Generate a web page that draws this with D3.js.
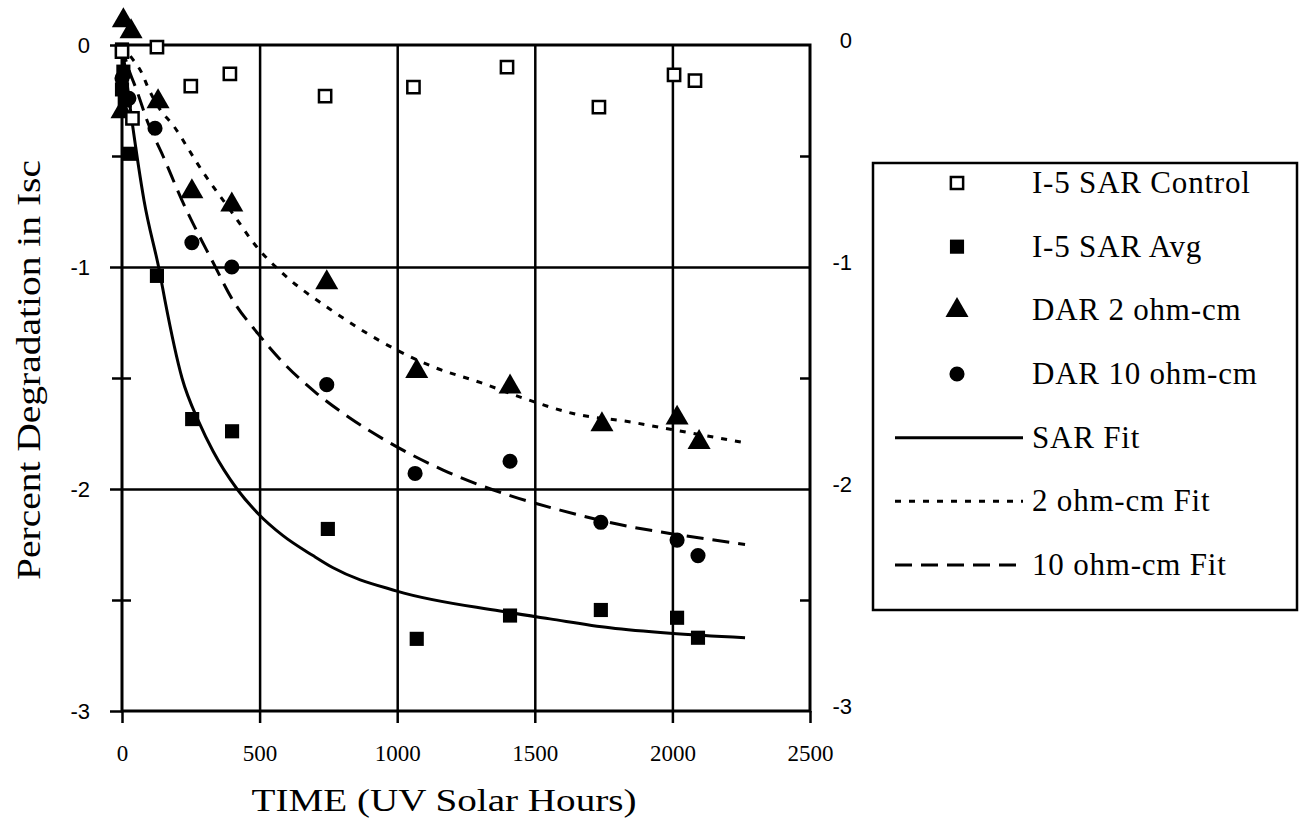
<!DOCTYPE html>
<html>
<head>
<meta charset="utf-8">
<script src="https://cdn.jsdelivr.net/npm/d3@7"></script>
<style>
  body { margin: 0; background: #fff; }
  svg { display: block; }
  .axis path { display: none; }
  .axis line { stroke: #000; stroke-width: 2.5; }
</style>
</head>
<body>
<svg width="1302" height="825"></svg>
<script>
// Measured points (hours, percent change)
var controlHours = [0, 38, 127, 250, 392, 738, 1059, 1399, 1733, 2006, 2082];
var controlVals  = [-0.03, -0.33, -0.01, -0.185, -0.13, -0.23, -0.19, -0.10, -0.28, -0.135, -0.16];

var sarHours = [0, 0, 5, 10, 29, 127, 255, 400, 748, 1071, 1410, 1740, 2017, 2093];
var sarVals  = [-0.02, -0.2, -0.12, -0.25, -0.49, -1.04, -1.685, -1.74, -2.18, -2.675, -2.57, -2.545, -2.58, -2.67];

var dar2Hours = [0, 5, 33, 131, 254, 399, 744, 1071, 1410, 1744, 2017, 2097];
var dar2Vals  = [-0.3, 0.11, 0.06, -0.255, -0.66, -0.72, -1.07, -1.47, -1.54, -1.71, -1.68, -1.79];

var dar10Hours = [0, 25, 120, 254, 399, 744, 1065, 1410, 1740, 2017, 2093];
var dar10Vals  = [-0.15, -0.24, -0.375, -0.89, -1.0, -1.53, -1.93, -1.875, -2.15, -2.23, -2.30];

// Fit curves
var sarFitHours = [0, 36, 80, 138, 156, 218, 280, 331, 418, 494, 585, 694, 767, 999, 1374, 1555, 1773, 1991, 2264];
var sarFitVals  = [0, -0.34, -0.7, -1.03, -1.15, -1.5, -1.7, -1.83, -2.0, -2.11, -2.21, -2.30, -2.355, -2.46, -2.55, -2.585, -2.625, -2.65, -2.67];

var dar2FitHours = [0, 30, 72, 94, 138, 185, 247, 272, 403, 490, 585, 756, 1000, 1131, 1301, 1457, 1639, 1857, 1966, 2257];
var dar2FitVals  = [0, -0.05, -0.126, -0.19, -0.29, -0.36, -0.48, -0.53, -0.76, -0.91, -1.03, -1.19, -1.375, -1.45, -1.52, -1.59, -1.66, -1.70, -1.725, -1.79];

var dar10FitHours = [0, 10, 58, 91, 149, 218, 331, 403, 494, 585, 708, 828, 999, 1167, 1410, 1592, 1846, 1991, 2264];
var dar10FitVals  = [0, -0.05, -0.22, -0.34, -0.5, -0.7, -0.98, -1.15, -1.30, -1.43, -1.57, -1.68, -1.81, -1.915, -2.03, -2.095, -2.17, -2.20, -2.25];

// Axes ticks and labels
var xTicks = [0, 500, 1000, 1500, 2000, 2500];
var yMajor = [0, -1, -2, -3];
var yMinor = [-0.5, -1.5, -2.5];

var legendLabels = ['I-5 SAR Control', 'I-5 SAR Avg', 'DAR 2 ohm-cm', 'DAR 10 ohm-cm',
                    'SAR Fit', '2 ohm-cm Fit', '10 ohm-cm Fit'];

var svg = d3.select('svg');
var plot = {left: 122, right: 810, top: 45, bottom: 711};

var x = d3.scaleLinear().domain([0, 2500]).range([plot.left, plot.right]);
var y = d3.scaleLinear().domain([-3, 0]).range([plot.bottom, plot.top]);

var serif = '"Liberation Serif", "Times New Roman", serif';
var sans = '"Liberation Sans", Arial, sans-serif';
var plain = function(d) { return String(d); }; // keep the plain hyphen minus

// grid lines
svg.append('g')
  .attr('class', 'axis')
  .attr('transform', 'translate(0,' + plot.bottom + ')')
  .call(d3.axisBottom(x).tickValues([500, 1000, 1500, 2000]).tickSize(-(plot.bottom - plot.top)).tickFormat(''));
svg.append('g')
  .attr('class', 'axis')
  .attr('transform', 'translate(' + plot.left + ',0)')
  .call(d3.axisLeft(y).tickValues([-1, -2]).tickSize(-(plot.right - plot.left)).tickFormat(''));

// frame
svg.append('rect')
  .attr('x', plot.left).attr('y', plot.top)
  .attr('width', plot.right - plot.left).attr('height', plot.bottom - plot.top)
  .attr('fill', 'none').attr('stroke', '#000').attr('stroke-width', 3);

// bottom axis
var gx = svg.append('g')
  .attr('class', 'axis')
  .attr('transform', 'translate(0,' + plot.bottom + ')')
  .call(d3.axisBottom(x).tickValues(xTicks).tickSize(12).tickFormat(plain));
gx.selectAll('text')
  .attr('y', 50).attr('dy', 0)
  .style('font-family', serif).style('font-size', '23px').attr('fill', '#000');

// left axis
var gy = svg.append('g')
  .attr('class', 'axis')
  .attr('transform', 'translate(' + plot.left + ',0)')
  .call(d3.axisLeft(y).tickValues(yMajor).tickSize(12).tickPadding(20).tickFormat(plain));
gy.selectAll('text')
  .style('font-family', sans).style('font-size', '22px').attr('fill', '#000');

svg.append('g')
  .attr('class', 'axis')
  .attr('transform', 'translate(' + plot.left + ',0)')
  .call(d3.axisLeft(y).tickValues(yMinor).tickSize(10).tickFormat(''))
  .selectAll('line').attr('x2', 9).attr('x1', -10);

// right axis
var gr = svg.append('g')
  .attr('class', 'axis')
  .attr('transform', 'translate(' + plot.right + ',0)')
  .call(d3.axisRight(y).tickValues(yMajor).tickSize(0).tickPadding(42).tickFormat(plain));
gr.selectAll('text')
  .attr('text-anchor', 'end').attr('dy', '0.1em')
  .style('font-family', sans).style('font-size', '22px').attr('fill', '#000');

svg.append('g')
  .attr('class', 'axis')
  .attr('transform', 'translate(' + plot.right + ',0)')
  .call(d3.axisRight(y).tickValues(yMinor).tickSize(-10).tickFormat(''));

// axis titles
svg.append('text')
  .attr('x', 444).attr('y', 811)
  .attr('text-anchor', 'middle')
  .attr('textLength', 385).attr('lengthAdjust', 'spacingAndGlyphs')
  .style('font-family', serif).style('font-size', '32px')
  .text('TIME (UV Solar Hours)');

svg.append('text')
  .attr('transform', 'translate(40,370) rotate(-90)')
  .attr('text-anchor', 'middle')
  .attr('textLength', 420).attr('lengthAdjust', 'spacingAndGlyphs')
  .style('font-family', serif).style('font-size', '34px')
  .text('Percent Degradation in Isc');

// fit lines
function zip(h, v) { return h.map(function(d, i) { return {h: d, v: v[i]}; }); }

var line = d3.line()
  .curve(d3.curveMonotoneX)
  .x(function(d) { return x(d.h); })
  .y(function(d) { return y(d.v); });

var fits = [
  {data: zip(sarFitHours, sarFitVals), dash: null},
  {data: zip(dar2FitHours, dar2FitVals), dash: '6,8'},
  {data: zip(dar10FitHours, dar10FitVals), dash: '17,9'}
];

fits.forEach(function(f) {
  svg.append('path')
    .datum(f.data)
    .attr('d', line)
    .attr('fill', 'none')
    .attr('stroke', '#000')
    .attr('stroke-width', 3)
    .attr('stroke-dasharray', f.dash);
});

// markers
var sym = {
  openSquare: d3.symbol().type(d3.symbolSquare).size(150),
  square: d3.symbol().type(d3.symbolSquare).size(200),
  triangle: d3.symbol().type(d3.symbolTriangle).size(230),
  circle: d3.symbol().type(d3.symbolCircle).size(180)
};

function drawMarkers(data, gen, filled) {
  svg.append('g').selectAll('path')
    .data(data)
    .enter().append('path')
    .attr('transform', function(d) { return 'translate(' + x(d.h) + ',' + y(d.v) + ')'; })
    .attr('d', gen)
    .attr('fill', filled ? '#000' : '#fff')
    .attr('stroke', '#000')
    .attr('stroke-width', filled ? 0 : 2.5);
}

drawMarkers(zip(sarHours, sarVals), sym.square, true);
drawMarkers(zip(dar2Hours, dar2Vals), sym.triangle, true);
drawMarkers(zip(dar10Hours, dar10Vals), sym.circle, true);
drawMarkers(zip(controlHours, controlVals), sym.openSquare, false);

// legend
var legend = svg.append('g');
legend.append('rect')
  .attr('x', 873).attr('y', 163).attr('width', 424).attr('height', 447)
  .attr('fill', 'none').attr('stroke', '#000').attr('stroke-width', 2.5);

var rowY = d3.scalePoint().domain(legendLabels).range([183, 565]);
var legendKinds = [
  {gen: sym.openSquare, filled: false},
  {gen: sym.square, filled: true},
  {gen: sym.triangle, filled: true},
  {gen: sym.circle, filled: true},
  {dash: null}, {dash: '6,8'}, {dash: '17,9'}
];

legendLabels.forEach(function(label, i) {
  var k = legendKinds[i];
  var cy = rowY(label);
  if (k.gen) {
    legend.append('path')
      .attr('transform', 'translate(957,' + cy + ')')
      .attr('d', k.gen)
      .attr('fill', k.filled ? '#000' : '#fff')
      .attr('stroke', '#000')
      .attr('stroke-width', k.filled ? 0 : 2.5);
  } else {
    legend.append('line')
      .attr('x1', 895).attr('x2', 1023).attr('y1', cy).attr('y2', cy)
      .attr('stroke', '#000').attr('stroke-width', 3)
      .attr('stroke-dasharray', k.dash);
  }
  legend.append('text')
    .attr('x', 1032).attr('y', cy + 10)
    .style('font-family', serif).style('font-size', '31px')
    .style('letter-spacing', '0.8px')
    .text(label);
});
</script>
</body>
</html>
